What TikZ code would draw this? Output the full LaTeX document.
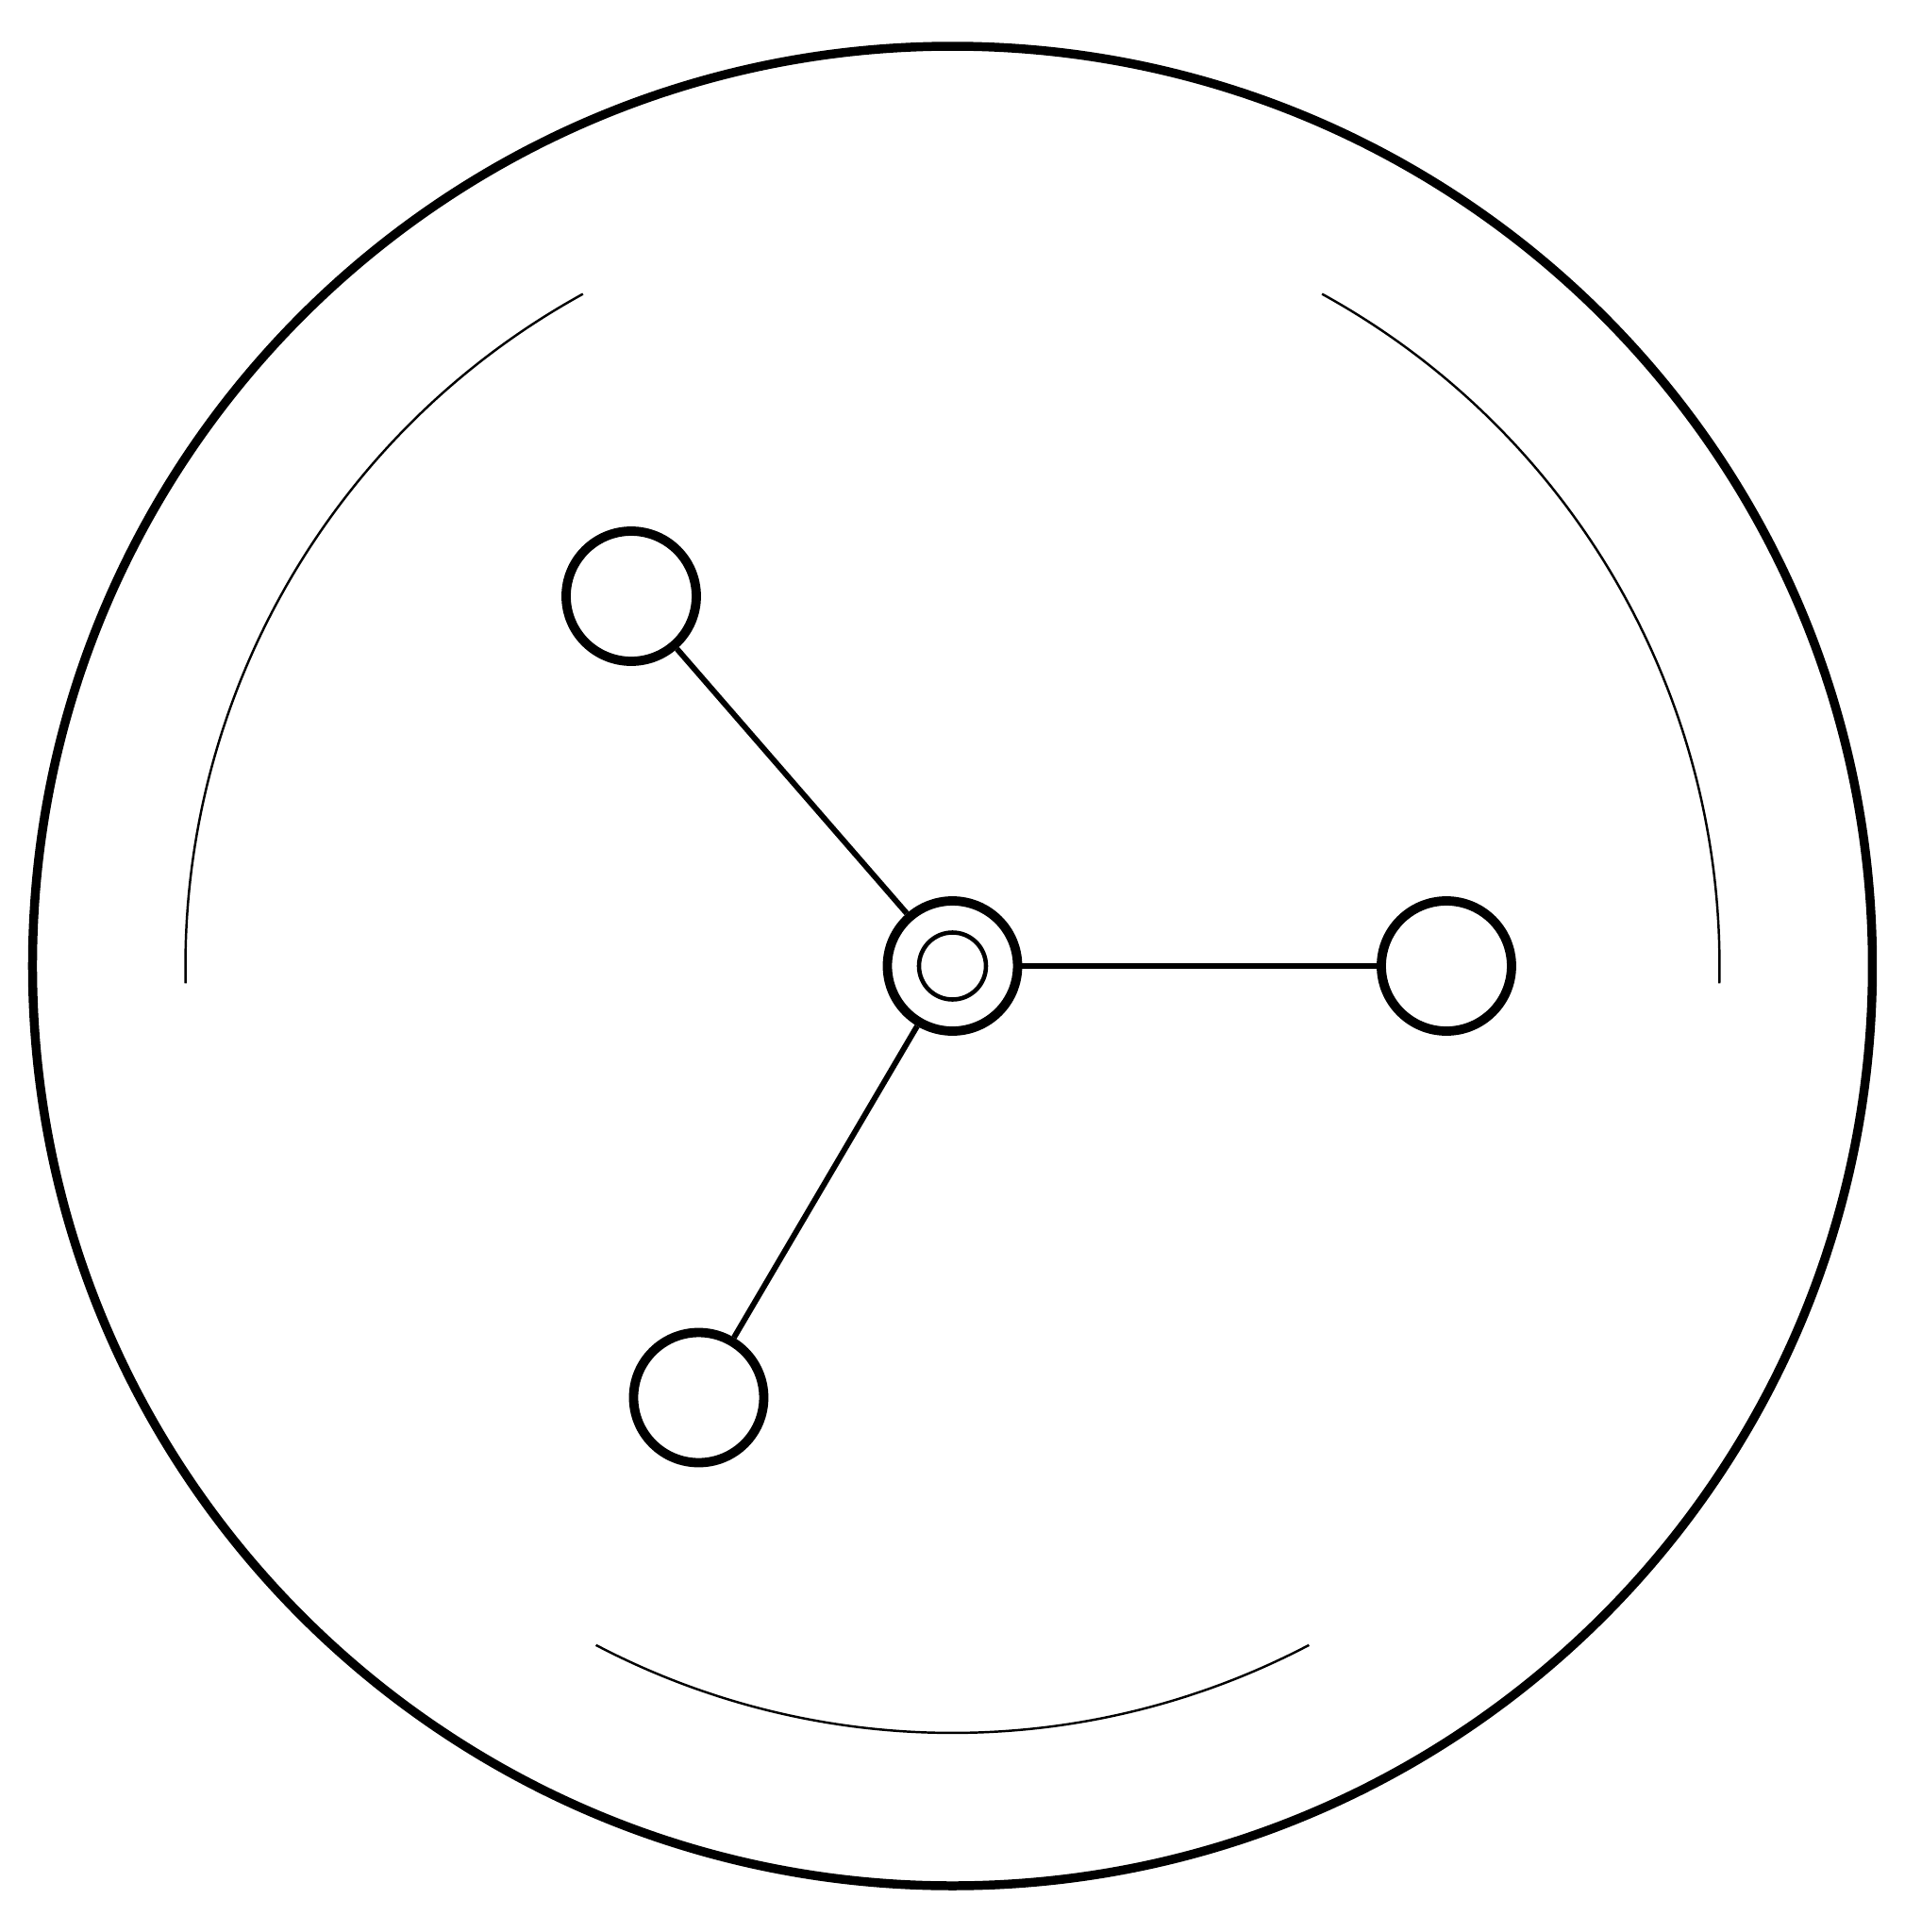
\documentclass[tikz,border=0pt]{standalone}
\usetikzlibrary{calc}
\usetikzlibrary{positioning}
\tikzset{ring/.style={circle, draw = black, line width = 2.8pt, minimum size = 13.8mm, inner sep = 0pt}}
\tikzset{core/.style={circle, draw = black, line width = 1.3pt, minimum size = 7.1mm, inner sep = 0pt}}
\tikzset{link/.style={black, line width = 1.7pt}}
\tikzset{rim/.style={black, line width = 0.7pt}}

\begin{document}
\begin{tikzpicture}[scale=1]
  \useasboundingbox (-10.095,-10.24) rectangle (10.095,10.24);
  \draw[draw = black, line width = 2.7pt] (0,0) circle (9.75);

  % inner arcs
  \draw[rim] (118.8:8.13) arc[start angle = 118.8, end angle = 181.3, radius = 8.13];
  \draw[rim] (61.2:8.13) arc[start angle = 61.2, end angle = -1.3, radius = 8.13];
  \draw[rim] (242.3:8.13) arc[start angle = 242.3, end angle = 297.7, radius = 8.13];

  \node[ring] (hub) at (0,0) {};
  \node[core] (hubcore) at (hub) {};
  \foreach \n/\x/\y in {leaf1/-3.405/3.92, leaf2/5.235/0, leaf3/-2.69/-4.575}{
    \node[ring] (\n) at (\x,\y) {};
    \draw[link] (hub) -- (\n);
  }

\end{tikzpicture}
\end{document}
